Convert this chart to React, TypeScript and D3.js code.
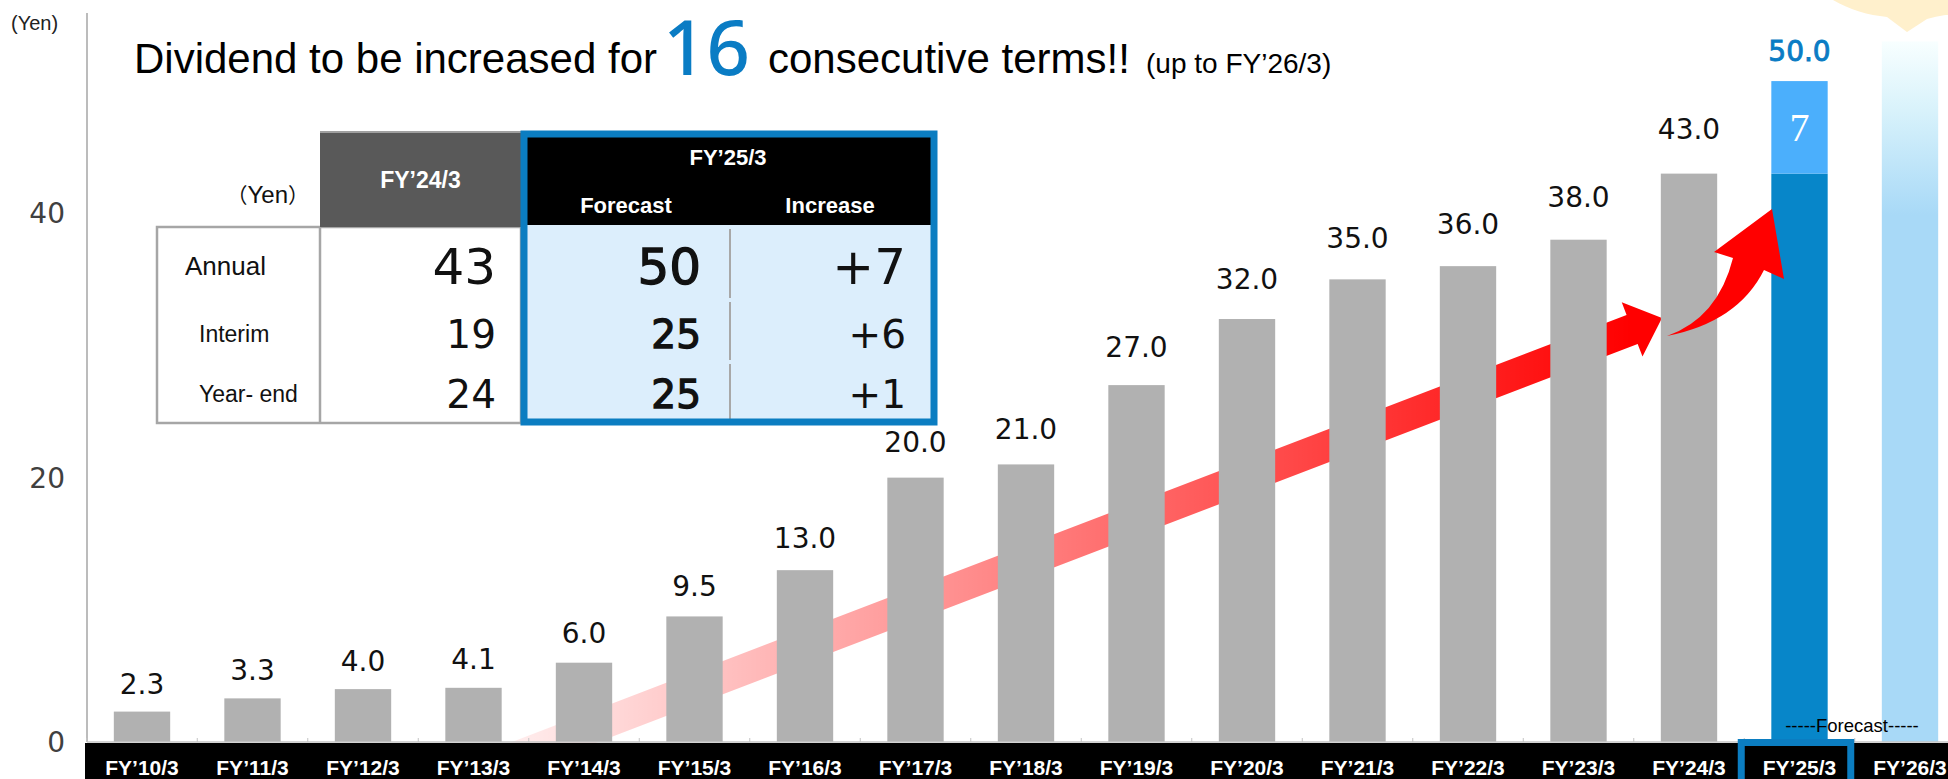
import React from "react";
import * as d3 from "d3";

// ---------- data ----------
const categories = [
  "FY’10/3", "FY’11/3", "FY’12/3", "FY’13/3", "FY’14/3", "FY’15/3", "FY’16/3", "FY’17/3", "FY’18/3",
  "FY’19/3", "FY’20/3", "FY’21/3", "FY’22/3", "FY’23/3", "FY’24/3", "FY’25/3", "FY’26/3",
];
const actualCategories = categories.slice(0, 15);
const actualDividends = [2.3, 3.3, 4.0, 4.1, 6.0, 9.5, 13.0, 20.0, 21.0, 27.0, 32.0, 35.0, 36.0, 38.0, 43.0];
const forecastCategory = "FY’25/3";
const forecastBase = 43;
const forecastIncrease = 7;
const forecastTotal = 50;
const nextCategory = "FY’26/3";
const nextPlaceholder = 53;
const yTicks = [0, 20, 40];

const tableRowLabels = ["Annual", "Interim", "Year- end"];
const tableFY24 = [43, 19, 24];
const tableFY25Forecast = [50, 25, 25];
const tableFY25Increase = ["+7", "+6", "+1"];

// ---------- layout ----------
const W = 1948;
const H = 779;
const ARIAL = "'Liberation Sans', Arial, sans-serif";
const MEI = "'DejaVu Sans', Verdana, sans-serif";
const CJK = "'Noto Sans CJK JP', 'Noto Sans CJK SC', sans-serif";
const BLUE = "#0A7CC4";

const step = 110.5;
const x0 = 86.75;
const x = d3.scaleBand<string>().domain(categories).range([x0, x0 + step * categories.length]).padding(0);
const y = d3.scaleLinear().domain([0, 55]).range([742, 15]);
const barW = x.bandwidth() * 0.51;
const cx = (c: string) => (x(c) as number) + x.bandwidth() / 2;
const fmt = d3.format(".1f");

// table layout
const T = { left: 157, c1: 320, c2: 521, c3: 730, right: 937, top: 131, head: 227, bottom: 423 };
const rowCenters = [266, 334, 394];
const rowBounds = [227, 300, 362, 421];

function straightArrow() {
  const tip = { x: cx("FY’24/3") - 27, y: 318 };
  const len = Math.hypot(1, 0.383);
  const u = { x: 1 / len, y: -0.383 / len };
  const n = { x: -u.y, y: u.x };
  const L = (tip.x - 440) / u.x;
  const p0 = { x: tip.x - L * u.x, y: tip.y - L * u.y };
  const b = { x: tip.x - 32 * u.x, y: tip.y - 32 * u.y };
  const h = 15.5;
  const hw = 29;
  const pts = [
    [p0.x - h * n.x, p0.y - h * n.y],
    [b.x - h * n.x, b.y - h * n.y],
    [b.x - hw * n.x, b.y - hw * n.y],
    [tip.x, tip.y],
    [b.x + hw * n.x, b.y + hw * n.y],
    [b.x + h * n.x, b.y + h * n.y],
    [p0.x + h * n.x, p0.y + h * n.y],
  ];
  return "M" + pts.map((p) => p.join(",")).join("L") + "Z";
}

function curvedArrow() {
  const p = d3.path();
  p.moveTo(1667, 336);
  p.quadraticCurveTo(1718, 318, 1733, 258);
  p.lineTo(1714, 252);
  p.lineTo(1772, 209);
  p.lineTo(1784, 279);
  p.lineTo(1764, 270);
  p.quadraticCurveTo(1738, 322, 1667, 336);
  p.closePath();
  return p.toString();
}

export default function App() {
  const fX = x(forecastCategory) as number;
  const fC = cx(forecastCategory);
  const nC = cx(nextCategory);
  return (
    <svg
      width={W}
      height={H}
      viewBox={`0 0 ${W} ${H}`}
      style={{ position: "absolute", left: 0, top: 0, background: "#fff" }}
    >
      <defs>
        <linearGradient id="arrowGrad" gradientUnits="userSpaceOnUse" x1={500} y1={0} x2={1630} y2={0}>
          <stop offset="0" stopColor="#ff0000" stopOpacity={0.06} />
          <stop offset="1" stopColor="#ff0000" stopOpacity={1} />
        </linearGradient>
        <linearGradient id="nextGrad" gradientUnits="userSpaceOnUse" x1={0} y1={y(nextPlaceholder)} x2={0} y2={215}>
          <stop offset="0" stopColor="#f8ffff" />
          <stop offset="0.4" stopColor="#d8f2fb" />
          <stop offset="1" stopColor="#a8d9f7" />
        </linearGradient>
      </defs>
      <rect x={0} y={0} width={W} height={H} fill="#fff" />

      {/* callout bubble */}
      <path
        d="M1833,0 C1850,10 1868,15 1887,17 L1907,32 L1927,19 C1935,17 1943,15 1948,15 L1948,0 Z"
        fill="#FFF0CC"
      />

      {/* y axis */}
      <text x={11} y={30} fontFamily={ARIAL} fontSize={20} fill="#222">(Yen)</text>
      <line x1={87} x2={87} y1={13} y2={742} stroke="#a6a6a6" strokeWidth={1.5} />
      {yTicks.map((t) => (
        <text key={t} x={65} y={y(t)} dy="0.36em" textAnchor="end" fontFamily={MEI} fontSize={28} fill="#404040">
          {t}
        </text>
      ))}

      {/* rising arrow behind bars */}
      <path d={straightArrow()} fill="url(#arrowGrad)" />

      {/* actual bars */}
      {actualCategories.map((c, i) => (
        <rect
          key={c}
          x={cx(c) - barW / 2}
          y={y(actualDividends[i])}
          width={barW}
          height={y(0) - y(actualDividends[i])}
          fill="#B1B1B1"
        />
      ))}
      {/* forecast stacked bar */}
      <rect x={fC - barW / 2} y={y(forecastBase)} width={barW} height={y(0) - y(forecastBase)} fill="#0786C9" />
      <rect
        x={fC - barW / 2}
        y={y(forecastTotal)}
        width={barW}
        height={y(forecastBase) - y(forecastTotal)}
        fill="#4BAFFC"
      />
      <text
        x={fC}
        y={y(forecastBase + forecastIncrease / 2)}
        dy="0.35em"
        textAnchor="middle"
        fontFamily="'Liberation Serif', 'DejaVu Serif', serif"
        fontSize={40}
        fill="#fff"
      >
        {forecastIncrease}
      </text>
      {/* next year placeholder */}
      <rect
        x={nC - barW / 2}
        y={y(nextPlaceholder)}
        width={barW}
        height={y(0) - y(nextPlaceholder)}
        fill="url(#nextGrad)"
      />

      {/* value labels */}
      {actualCategories.map((c, i) => {
        const v = actualDividends[i];
        return (
          <text
            key={c}
            x={cx(c)}
            y={y(v) - (27 + 0.42 * v)}
            dy="0.36em"
            textAnchor="middle"
            fontFamily={MEI}
            fontSize={28}
            fill="#111"
          >
            {fmt(v)}
          </text>
        );
      })}
      <text
        x={fC}
        y={y(forecastTotal) - 30}
        dy="0.36em"
        textAnchor="middle"
        fontFamily={MEI}
        fontSize={28}
        fill={BLUE}
        stroke={BLUE}
        strokeWidth={0.9}
      >
        {fmt(forecastTotal)}
      </text>

      {/* jump arrow */}
      <path d={curvedArrow()} fill="#ff0000" />

      {/* x axis band */}
      <line x1={87} x2={W} y1={742} y2={742} stroke="#c4c4c4" strokeWidth={1.5} />
      {categories.map((c) => (
        <line key={c} x1={x(c) as number} x2={x(c) as number} y1={738} y2={742} stroke="#c4c4c4" />
      ))}
      <rect x={85} y={743} width={W - 85} height={H - 743} fill="#000" />
      {categories.map((c) => (
        <text
          key={c}
          x={cx(c)}
          y={775}
          textAnchor="middle"
          fontFamily={ARIAL}
          fontWeight="bold"
          fontSize={21}
          fill="#fff"
        >
          {c}
        </text>
      ))}
      <rect x={fX - 3} y={742.5} width={x.bandwidth() - 1} height={60} fill="none" stroke="#0B7DC1" strokeWidth={7} />
      <text x={1852} y={732} textAnchor="middle" fontFamily={ARIAL} fontSize={18.5} fill="#000">
        -----Forecast-----
      </text>

      {/* table */}
      <g>
        <rect x={T.left} y={T.head} width={T.c2 - T.left} height={T.bottom - T.head} fill="#fff" stroke="#a6a6a6" strokeWidth={2.5} />
        <line x1={T.c1} x2={T.c1} y1={T.head} y2={T.bottom} stroke="#a6a6a6" strokeWidth={2.5} />
        <rect x={T.c1} y={T.top} width={T.c2 - T.c1} height={T.head - T.top} fill="#595959" />
        <line x1={T.c1} x2={T.c2} y1={T.top + 1} y2={T.top + 1} stroke="#a0a0a0" strokeWidth={2} />
        <text x={(T.c1 + T.c2) / 2} y={180} dy="0.35em" textAnchor="middle" fontFamily={ARIAL} fontWeight="bold" fontSize={23} fill="#fff">
          FY’24/3
        </text>
        <text x={309} y={195} dy="0.35em" textAnchor="end" fontFamily={ARIAL} fontSize={24} fill="#111">
          <tspan fontFamily={CJK} fontSize={21}>（</tspan>
          <tspan>Yen</tspan>
          <tspan fontFamily={CJK} fontSize={21}>）</tspan>
        </text>

        <rect x={T.c2} y={T.top} width={T.right - T.c2} height={T.bottom - T.top} fill="#DCEEFC" />
        <rect x={T.c2} y={T.top} width={T.right - T.c2} height={T.head - T.top - 2} fill="#000" />
        {rowBounds.slice(0, 3).map((b, i) => (
          <line key={i} x1={T.c3} x2={T.c3} y1={b + 2} y2={rowBounds[i + 1] - 2} stroke="#a8a8a8" strokeWidth={2} />
        ))}
        <rect
          x={T.c2 + 3}
          y={T.top + 3}
          width={T.right - T.c2 - 6}
          height={T.bottom - T.top - 4}
          fill="none"
          stroke="#0B7DC1"
          strokeWidth={7}
        />
        <text x={728} y={157} dy="0.35em" textAnchor="middle" fontFamily={ARIAL} fontWeight="bold" fontSize={22} fill="#fff">
          FY’25/3
        </text>
        <text x={626} y={205} dy="0.35em" textAnchor="middle" fontFamily={ARIAL} fontWeight="bold" fontSize={22} fill="#fff">
          Forecast
        </text>
        <text x={830} y={205} dy="0.35em" textAnchor="middle" fontFamily={ARIAL} fontWeight="bold" fontSize={22} fill="#fff">
          Increase
        </text>

        {tableRowLabels.map((r, i) => (
          <text
            key={r}
            x={i === 0 ? 185 : 199}
            y={rowCenters[i]}
            dy="0.35em"
            fontFamily={ARIAL}
            fontSize={i === 0 ? 26 : 23}
            fill="#111"
          >
            {r}
          </text>
        ))}
        {tableFY24.map((v, i) => (
          <text key={i} x={496} y={rowCenters[i]} dy="0.36em" textAnchor="end" fontFamily={MEI} fontSize={i === 0 ? 50 : 39} fill="#111">
            {v}
          </text>
        ))}
        {tableFY25Forecast.map((v, i) => (
          <text
            key={i}
            x={701}
            y={rowCenters[i]}
            dy="0.36em"
            textAnchor="end"
            fontFamily={MEI}
            fontSize={i === 0 ? 50 : 39}
            fill="#111"
            stroke="#111"
            strokeWidth={1.3}
          >
            {v}
          </text>
        ))}
        {tableFY25Increase.map((v, i) => (
          <text key={i} x={906} y={rowCenters[i]} dy="0.36em" textAnchor="end" fontFamily={MEI} fontSize={i === 0 ? 50 : 39} fill="#111">
            {v}
          </text>
        ))}
      </g>

      {/* title */}
      <text x={134} y={73} fontFamily={ARIAL} fontSize={42} fill="#000">
        Dividend to be increased for
      </text>
      <text x={663} y={75} fontFamily="'Noto Sans', 'DejaVu Sans', sans-serif" fontSize={76} fontWeight={500} fill={BLUE}>
        16
      </text>
      <text x={768} y={73} fontFamily={ARIAL} fontSize={42} fill="#000">
        consecutive terms!!
      </text>
      <text x={1146} y={73} fontFamily={ARIAL} fontSize={28} fill="#000">
        (up to FY’26/3)
      </text>
    </svg>
  );
}
